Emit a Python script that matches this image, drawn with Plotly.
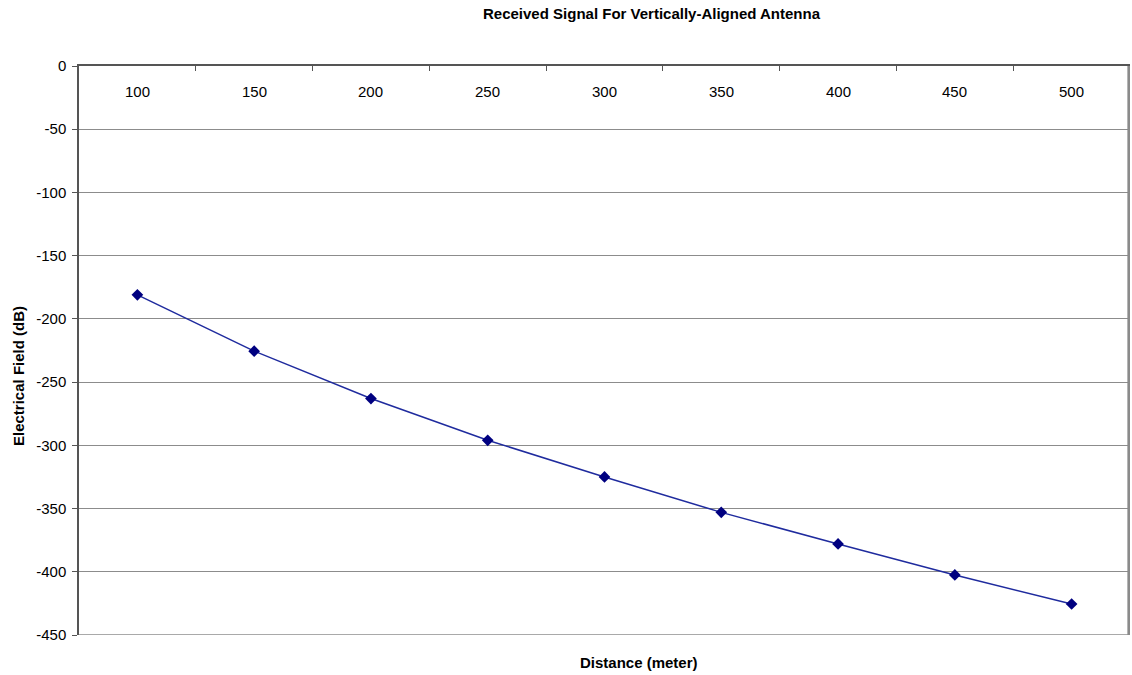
import plotly.graph_objects as go

# Distance (m) vs received electrical field (dB)
distance = [100, 150, 200, 250, 300, 350, 400, 450, 500]
field_db = [-181, -225.5, -263, -296, -325, -353, -378, -402.5, -425.5]
y_ticks = [0, -50, -100, -150, -200, -250, -300, -350, -400, -450]

FONT = "Liberation Sans, Arial, sans-serif"
AXIS_GREY = "#555555"
GRID_GREY = "#8c8c8c"

W, H = 1132, 675
L, R, T, B = 79, 2, 66, 40
pw, ph = W - L - R, H - T - B


def px(x):
    return (x - L) / pw


def py(y):
    return 1 - (y - T) / ph


fig = go.Figure()
fig.add_trace(go.Scatter(
    x=distance, y=field_db, mode="lines+markers",
    line=dict(color="#1f2b9e", width=1.5),
    marker=dict(symbol="diamond", size=9, color="#000080"),
    showlegend=False,
))

annotations = [
    dict(text="<b>Received Signal For Vertically-Aligned Antenna</b>",
         x=px(652), y=py(14), font=dict(size=15)),
    dict(text="<b>Distance (meter)</b>", x=px(639), y=py(662),
         font=dict(size=15)),
    dict(text="<b>Electrical Field (dB)</b>", x=px(18), y=py(376),
         font=dict(size=15), textangle=-90),
]
for a in annotations:
    a.update(xref="paper", yref="paper", xanchor="center", yanchor="middle",
             showarrow=False)

# Category labels sit just below the top axis line
for d in distance:
    annotations.append(dict(text=str(d), x=d, xref="x", y=py(91), yref="paper",
                            xanchor="center", yanchor="middle", showarrow=False,
                            font=dict(size=15, color="black")))

fig.update_layout(
    width=W, height=H,
    margin=dict(l=L, r=R, t=T, b=B),
    paper_bgcolor="white", plot_bgcolor="white",
    font=dict(family=FONT, size=15, color="black"),
    xaxis=dict(
        range=[75, 525], side="top",
        tickvals=distance, showticklabels=False, ticks="",
        showgrid=False, zeroline=False,
        showline=True, linecolor=AXIS_GREY, linewidth=1.5,
        minor=dict(tickvals=[125 + 50 * i for i in range(8)], ticks="inside",
                   ticklen=5, tickcolor=AXIS_GREY, tickwidth=1, showgrid=False),
        fixedrange=True,
    ),
    yaxis=dict(
        range=[-450, 0], tickvals=y_ticks, ticktext=[str(v) for v in y_ticks],
        tickfont=dict(color="black", size=15),
        ticks="outside", ticklen=5, tickcolor=AXIS_GREY,
        showgrid=True, gridcolor=GRID_GREY, gridwidth=1,
        zeroline=False, showline=True, linecolor=AXIS_GREY, linewidth=1.5,
        ticklabelstandoff=3,
    ),
    annotations=annotations,
)

# Bottom gridline of the plot area
fig.add_shape(type="line", xref="paper", yref="y", x0=0, x1=1, y0=-450, y1=-450,
              line=dict(color=GRID_GREY, width=1.5), layer="above")
# Grey frame on the right-hand side of the plot area
fig.add_shape(type="rect", xref="paper", yref="paper", x0=0.9975, x1=1.0,
              y0=0, y1=1, line=dict(width=0), fillcolor="#8a8a8a",
              layer="above")

fig.write_html("out.html")
